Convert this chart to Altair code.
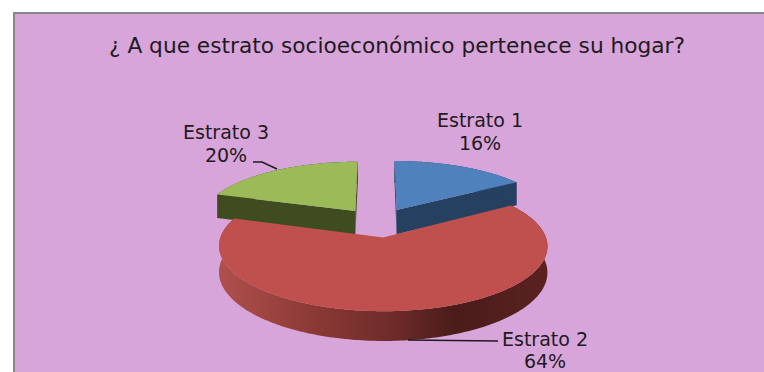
import math
import altair as alt
import pandas as pd

# Survey answers
categories = ["Estrato 1", "Estrato 2", "Estrato 3"]
shares = [16, 64, 20]
title_text = "¿ A que estrato socioeconómico pertenece su hogar?"

# Canvas and frame
W, H = 764, 372
FRAME_X, FRAME_Y = 14, 13

# Perspective pie parameters
X0, Y0 = 378, 222.5
RX, RY = 165, 61
PERSP = 0.13
EXPLODE = 0.24
DEPTH = 25
RADIUS_X = [0.95, 0.956, 0.94]
RADIUS_Y = [0.95, 0.985, 0.95]

TOP = ["#4F81BD", "#C0504D", "#9BBB59"]
WALL = ["#254061", "#5A2220", "#3F4C20"]


def project(u, v, drop=0.0):
    d = 1 + PERSP * v
    return [X0 + RX * u / d, Y0 - RY * v / d + drop / d]


def shape(coords, kind="Polygon", **mark):
    geometry = {"type": kind, "coordinates": [coords] if kind == "Polygon" else coords}
    feature = {"type": "Feature", "properties": {}, "geometry": geometry}
    return alt.Chart(alt.Data(values=[feature])).mark_geoshape(**mark)


def slice_layers(i, start, end, wall_fill):
    mid = math.radians((start + end) / 2)
    ou, ov = EXPLODE * math.sin(mid), EXPLODE * math.cos(mid)
    rx, ry = RADIUS_X[i], RADIUS_Y[i]
    steps = max(2, int(end - start))
    rim = [math.radians(start + (end - start) * s / steps) for s in range(steps + 1)]
    outer = [(ou + rx * math.sin(t), ov + ry * math.cos(t)) for t in rim]
    top = [project(ou, ov)] + [project(*p) for p in outer]
    top.append(top[0])
    # extruded body: the sector footprint swept downwards
    bottom = [project(ou, ov, DEPTH)] + [project(*p, DEPTH) for p in outer]
    walls = []
    n = len(top) - 1
    if i == 1:
        # the long front wall is lit from the left, in one gradient
        body = [project(*p) for p in outer] + [project(*p, DEPTH) for p in reversed(outer)]
        body.append(body[0])
        walls.append(shape(body, fill=wall_fill, strokeWidth=0))
    else:
        # the cut faces of the two back slices
        for a, b in ((0, 1), (0, n - 1)):
            q = [top[a], top[b], bottom[b], bottom[a], top[a]]
            walls.append(shape(q, fill=wall_fill, strokeWidth=0))
        walls.append(shape([*top[1:n], *[bottom[j] for j in range(n - 1, 0, -1)], top[1]],
                           fill=wall_fill, strokeWidth=0))
    return walls + [shape(top, fill=TOP[i], strokeWidth=0)]


red_wall = alt.Gradient(
    gradient="linear", x1=0, x2=1, y1=0, y2=0,
    stops=[
        alt.GradientStop(color="#B0504C", offset=0),
        alt.GradientStop(color="#8A3835", offset=0.3),
        alt.GradientStop(color="#6A2A28", offset=0.55),
        alt.GradientStop(color="#4A1C1A", offset=0.72),
        alt.GradientStop(color="#5A2220", offset=1),
    ],
)

# Cumulative angles, clockwise from twelve o'clock
angles = []
acc = 0
for s in shares:
    angles.append((acc * 3.6, (acc + s) * 3.6))
    acc += s

layers = [
    shape([[0, 0], [W, 0], [W, H], [0, H], [0, 0]], fill="white", strokeWidth=0),
    shape([[FRAME_X, FRAME_Y], [W, FRAME_Y], [W, H], [FRAME_X, H], [FRAME_X, FRAME_Y]],
          fill="#D7A5D9", strokeWidth=0),
    shape([[FRAME_X, H], [FRAME_X, FRAME_Y], [W, FRAME_Y]], kind="LineString",
          filled=False, stroke="#868686", strokeWidth=2),
]

layers += slice_layers(0, *angles[0], WALL[0])
layers += slice_layers(2, *angles[2], WALL[2])
layers += slice_layers(1, *angles[1], red_wall)

# Leader lines
INK = "#1F1A22"
layers.append(shape([[253, 162], [262, 162], [277, 169]], kind="LineString",
                    filled=False, stroke=INK, strokeWidth=1.5))
layers.append(shape([[408, 340], [498, 341]], kind="LineString",
                    filled=False, stroke=INK, strokeWidth=1.5))

# Text
label_anchor = {"Estrato 1": (480, 127, 150), "Estrato 2": (545, 346, 368), "Estrato 3": (226, 139, 162)}
rows = [{"t": title_text, "px": 397, "py": 53, "fs": 21.7}]
for cat, s in zip(categories, shares):
    ax, y1, y2 = label_anchor[cat]
    rows.append({"t": cat, "px": ax, "py": y1, "fs": 19})
    rows.append({"t": f"{s}%", "px": ax, "py": y2, "fs": 19})

text = alt.Chart(pd.DataFrame(rows)).mark_text(
    font="DejaVu Sans", color=INK, align="center", baseline="alphabetic"
).encode(
    x=alt.X("px:Q", scale=None, axis=None),
    y=alt.Y("py:Q", scale=None, axis=None),
    text="t:N",
    size=alt.Size("fs:Q", scale=None, legend=None),
)

chart = (
    alt.layer(*layers, text)
    .project(type="identity")
    .properties(width=W, height=H, padding=0, autosize=alt.AutoSizeParams(type="none"), background="white")
    .configure_view(stroke=None)
)

chart.save("out.html", embed_options={"renderer": "svg", "actions": False})
